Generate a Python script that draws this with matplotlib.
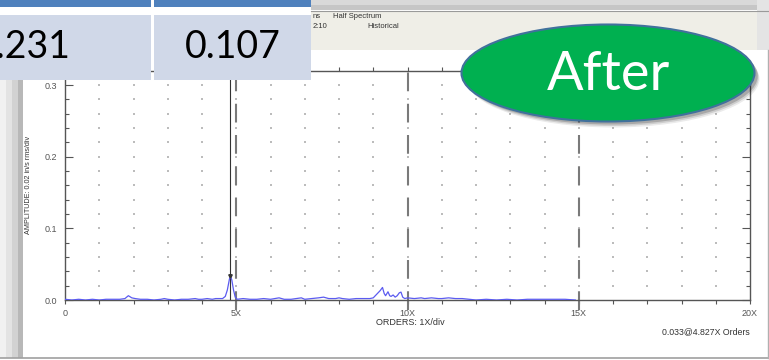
import matplotlib
matplotlib.use("Agg")
import matplotlib.pyplot as plt
import numpy as np
from matplotlib.patches import Rectangle, Ellipse
from matplotlib.ticker import FixedLocator, FixedFormatter, MultipleLocator

# ---------------- data ----------------
orders = [0.0, 0.2, 0.4, 0.6, 0.8, 1.0, 1.2, 1.4, 1.6, 1.75, 1.85, 1.95, 2.05, 2.2, 2.4,
          2.6, 2.8, 2.9, 3.0, 3.2, 3.4, 3.6, 3.8, 3.9, 4.0, 4.15, 4.3, 4.4, 4.5, 4.6,
          4.68, 4.74, 4.80, 4.83, 4.87, 4.92, 4.97, 5.03, 5.2, 5.4, 5.6, 5.8, 6.0, 6.25,
          6.4, 6.6, 6.9, 7.0, 7.2, 7.4, 7.55, 7.7, 7.9, 8.0, 8.1, 8.3, 8.5, 8.7, 8.9,
          9.0, 9.1, 9.2, 9.27, 9.32, 9.36, 9.43, 9.48, 9.52, 9.58, 9.64, 9.7, 9.76, 9.81,
          9.86, 9.92, 10.0, 10.2, 10.4, 10.5, 10.7, 10.9, 11.0, 11.2, 11.4, 11.6, 11.8,
          12.0, 12.3, 12.6, 12.9, 13.2, 13.5, 13.8, 14.0, 14.3, 14.6, 14.9]
amplitude = [0.001, 0.000, 0.001, 0.000, 0.001, 0.000, 0.001, 0.001, 0.001, 0.002, 0.006, 0.003, 0.002, 0.001, 0.001,
             0.000, 0.001, 0.002, 0.001, 0.000, 0.001, 0.001, 0.002, 0.001, 0.001, 0.002, 0.001, 0.002, 0.002, 0.002,
             0.005, 0.014, 0.029, 0.033, 0.028, 0.014, 0.004, 0.001, 0.002, 0.001, 0.001, 0.002, 0.001, 0.003,
             0.001, 0.001, 0.003, 0.001, 0.002, 0.003, 0.004, 0.002, 0.002, 0.003, 0.002, 0.001, 0.002, 0.002, 0.002,
             0.003, 0.008, 0.013, 0.0175, 0.009, 0.006, 0.0115, 0.006, 0.005, 0.007, 0.004, 0.006, 0.010, 0.011,
             0.004, 0.002, 0.003, 0.002, 0.003, 0.002, 0.003, 0.002, 0.002, 0.003, 0.002, 0.002, 0.001,
             0.000, 0.001, 0.000, 0.001, 0.000, 0.001, 0.001, 0.001, 0.001, 0.001, 0.000]

harmonics = [5, 10, 15]
cursor_order = 4.827
cursor_amp = 0.033
x_ticks = list(range(0, 21))
x_tick_labels = ["0", "", "", "", "", "5X", "", "", "", "", "10X", "", "", "", "", "15X",
                 "", "", "", "", "20X"]
y_ticks = [0.0, 0.1, 0.2, 0.3]
y_tick_labels = ["0.0", "0.1", "0.2", "0.3"]
table_values = ["0.231", "0.107"]
header_lines = [("ns", "Half Spectrum"), ("2:10", "Historical")]

# ---------------- figure ----------------
W, H = 769, 360
fig = plt.figure(figsize=(W / 100, H / 100), dpi=100)
fig.patch.set_facecolor("white")

AX_L, AX_R, AX_B, AX_T = 65, 750, 300, 70.7
ax = fig.add_axes([AX_L / W, 1 - AX_B / H, (AX_R - AX_L) / W, (AX_B - AX_T) / H])
ax.set_facecolor("none")
ax.set_xlim(0, 20)
ax.set_ylim(0, 0.32)

axis_col = "#555555"
for s in ax.spines.values():
    s.set_color(axis_col)
    s.set_linewidth(1.0)

# dotted grid
gx, gy = np.meshgrid(x_ticks[1:-1], np.arange(1, 16) * 0.02)
ax.scatter(gx.ravel(), gy.ravel(), s=0.7, marker="s", color="#bcbcbc", linewidths=0, zorder=1)

# harmonic dashed lines
for h in harmonics:
    ax.plot([h, h], [-0.014, 0.332], color="#7a7a7a", lw=1.5, dashes=(9, 6),
            clip_on=False, zorder=2)
# cursor line
ax.plot([cursor_order, cursor_order], [0.0, 0.32], color="#333333", lw=0.8, zorder=3)

# spectrum
ax.plot(orders, amplitude, color="#5b5bf0", lw=0.9, zorder=4)
ax.plot([cursor_order], [cursor_amp], marker="v", ms=2.5, color="#333333", zorder=5)

# ticks
ax.xaxis.set_major_locator(FixedLocator(x_ticks))
ax.xaxis.set_major_formatter(FixedFormatter(x_tick_labels))
ax.yaxis.set_major_locator(FixedLocator(y_ticks))
ax.yaxis.set_major_formatter(FixedFormatter(y_tick_labels))
ax.yaxis.set_minor_locator(MultipleLocator(0.02))
ax.tick_params(axis="x", which="major", direction="out", length=3, width=0.8,
               color=axis_col, top=True, bottom=True, labelsize=6.5, labelcolor="#555555", pad=3.5)
ax.tick_params(axis="y", which="major", direction="in", length=6, width=0.8,
               color=axis_col, left=True, right=True, labelsize=6.5, labelcolor="#555555", pad=6)
ax.tick_params(axis="y", which="minor", direction="in", length=3, width=0.8,
               color=axis_col, left=True, right=True)
for lab in ax.get_xticklabels() + ax.get_yticklabels():
    lab.set_fontfamily("Liberation Sans")

ax.set_ylabel("AMPLITUDE: 0.02 in/s rms/div", fontsize=5.2, color="#333333",
              fontfamily="Liberation Sans")
ax.yaxis.set_label_coords((32 - AX_L) / (AX_R - AX_L), 0.5)
ax.text(0.504, -0.10, "ORDERS: 1X/div", transform=ax.transAxes, ha="center", va="center",
        fontsize=6.5, color="#333333", fontfamily="Liberation Sans")
ax.text(1.0, -0.14, f"{cursor_amp:.3f}@{cursor_order:.3f}X Orders", transform=ax.transAxes,
        ha="right", va="center", fontsize=6.3, color="#333333", fontfamily="Liberation Sans")

# ---------------- overlay (screenshot decoration) ----------------
ov = fig.add_axes([0, 0, 1, 1], zorder=10)
ov.set_xlim(0, W)
ov.set_ylim(H, 0)
ov.axis("off")
ov.patch.set_alpha(0)

# window header
ov.add_patch(Rectangle((311, 0), W - 311, 5, color="#d9d9d9", lw=0))
ov.add_patch(Rectangle((311, 5), W - 311, 5, color="#c6c6c6", lw=0))
ov.plot([311, W], [10.5, 10.5], color="#9a9a9a", lw=0.8)
ov.add_patch(Rectangle((311, 11), W - 311, 39, color="#efeee7", lw=0))
ov.add_patch(Rectangle((757, 0), 12, 50, color="#e4e4e4", lw=0))
for i, (a, b) in enumerate(header_lines):
    yy = 16 + i * 10
    ov.text(313, yy, a, fontsize=5.5, color="#333333", va="center", fontfamily="Liberation Sans")
    ov.text(333 if i == 0 else 367, yy, b, fontsize=5.5, color="#333333", va="center",
            fontfamily="Liberation Sans")

# left stripes and borders
for x0, w, c in [(0, 6, "#f1f1f1"), (6, 6, "#e3e3e3"), (12, 6, "#d2d2d2"), (18, 5, "#b8b8b8")]:
    ov.add_patch(Rectangle((x0, 80), w, 278, color=c, lw=0))
ov.plot([0, 767.5], [358, 358], color="#a0a0a0", lw=1.2)
ov.plot([767.5, 767.5], [50, 358], color="#b0b0b0", lw=1.0)

# table
ov.add_patch(Rectangle((0, 0), 151, 7, color="#4f81bd", lw=0))
ov.add_patch(Rectangle((154, 0), 157, 7, color="#4f81bd", lw=0))
ov.add_patch(Rectangle((0, 15), 151, 65, color="#d0d8e8", lw=0))
ov.add_patch(Rectangle((154, 15), 157, 65, color="#d0d8e8", lw=0))
ov.text(71, 47, table_values[0], ha="right", va="center", fontsize=27, color="black",
        fontfamily="Lato")
ov.text(232.5, 47, table_values[1], ha="center", va="center", fontsize=27, color="black",
        fontfamily="Lato")

# "After" ellipse
for k, a in [(5, 0.08), (3.5, 0.12), (2, 0.18)]:
    ov.add_patch(Ellipse((610 + k * 0.6, 74 + k), 293, 97, color="#000000", alpha=a, lw=0))
ov.add_patch(Ellipse((608, 73), 293, 97, facecolor="#00b050", edgecolor="#41719c", lw=1.5))
ov.text(608, 75, "After", ha="center", va="center", fontsize=39, color="white",
        fontfamily="Lato")

fig.savefig("out.png", dpi=100)
